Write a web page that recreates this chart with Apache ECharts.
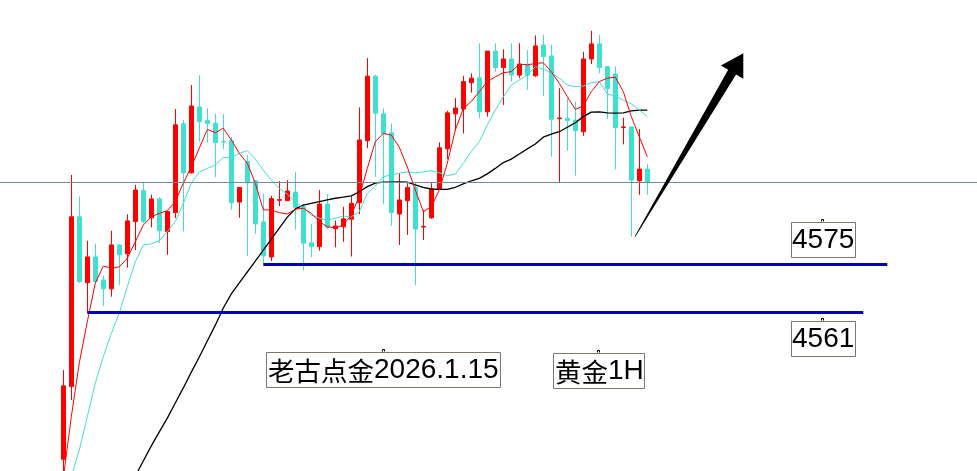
<!DOCTYPE html>
<html><head><meta charset="utf-8">
<script src="https://cdn.jsdelivr.net/npm/echarts@6/dist/echarts.min.js"></script>
<style>html,body{margin:0;padding:0;background:#fff;overflow:hidden}#c{width:977px;height:471px}</style>
</head><body><div id="c"></div>
<script>
// XAUUSD 1H candles (index 0..73)
const opens = [4518.1,4539.3,4588.8,4569.6,4577.1,4570.4,4567.8,4580.6,4578.0,4587.4,
4596.4,4588.5,4594.0,4584.5,4590.0,4615.9,4601.6,4620.8,4616.8,4616.1,
4610.8,4611.0,4593.1,4604.9,4599.3,4587.3,4577.1,4593.6,4593.5,4596.0,
4591.7,4581.2,4580.1,4592.5,4585.3,4585.9,4588.1,4592.9,4611.0,4629.8,
4618.8,4613.3,4589.6,4593.5,4597.3,4585.8,4588.5,4596.8,4608.6,4618.8,
4620.2,4627.9,4629.3,4619.4,4637.1,4632.3,4634.8,4630.1,4633.3,4629.9,
4638.9,4635.7,4617.4,4617.5,4617.0,4613.6,4634.8,4639.2,4632.6,4630.4,
4614.8,4615.0,4599.3,4602.7];
const closes = [4539.5,4588.8,4569.9,4577.1,4569.9,4567.8,4580.6,4577.7,4587.6,4596.6,
4587.4,4594.0,4584.7,4590.3,4615.6,4601.6,4621.1,4616.5,4616.0,4610.4,
4610.6,4592.9,4597.3,4598.7,4586.7,4577.4,4594.1,4593.8,4596.3,4591.6,
4581.1,4580.1,4592.5,4585.7,4586.1,4588.2,4592.7,4611.2,4629.8,4619.0,
4613.1,4590.0,4593.7,4597.3,4585.2,4586.0,4596.9,4608.9,4619.1,4620.5,
4628.2,4629.2,4619.4,4637.1,4632.3,4634.8,4630.1,4633.3,4630.1,4638.6,
4635.5,4617.2,4617.6,4616.9,4613.9,4634.8,4639.2,4632.3,4626.1,4614.8,
4615.0,4599.5,4602.7,4598.9];
const lows = [4510.6,4535.4,4569.5,4560.8,4569.6,4562.8,4565.5,4568.9,4574.0,4579.1,
4586.9,4585.7,4581.2,4577.7,4588.4,4584.5,4601.4,4610.7,4610.4,4600.3,
4608.5,4590.8,4588.5,4577.4,4583.8,4575.2,4575.9,4591.9,4593.5,4585.1,
4573.1,4577.0,4578.9,4585.1,4579.9,4581.5,4577.2,4589.6,4608.8,4600.5,
4592.5,4586.2,4580.6,4583.5,4568.9,4582.0,4588.2,4596.8,4605.6,4613.9,
4613.1,4625.0,4617.5,4618.0,4631.1,4621.4,4628.2,4629.2,4625.8,4629.6,
4624.0,4606.3,4598.9,4608.1,4600.8,4612.4,4633.3,4630.6,4617.3,4602.6,
4609.9,4583.0,4595.2,4595.2];
const highs = [4544.1,4601.0,4594.7,4581.8,4580.9,4571.5,4584.7,4580.9,4589.5,4598.1,
4598.9,4595.2,4594.5,4590.5,4620.2,4617.0,4627.2,4630.1,4620.4,4618.8,
4618.7,4612.1,4597.3,4606.8,4599.5,4595.4,4594.9,4599.2,4599.5,4601.8,
4592.5,4586.7,4596.6,4595.4,4587.7,4591.7,4594.7,4620.7,4635.1,4630.2,
4620.4,4616.0,4601.5,4598.6,4599.0,4590.8,4598.6,4610.5,4619.7,4623.4,
4629.9,4630.6,4639.4,4637.1,4639.4,4637.6,4639.4,4639.4,4637.4,4641.7,
4641.8,4638.9,4626.3,4623.3,4622.4,4636.9,4643.0,4641.8,4632.6,4632.6,
4617.7,4615.0,4614.4,4604.2];
// moving averages
const maFast = [4512.6,4530.5,4546.2,4558.2,4569.5,4574.4,4573.9,4574.2,4576.7,4581.5,
4586.4,4588.8,4589.8,4590.6,4593.2,4598.6,4603.4,4608.8,4614.3,4613.3,
4614.6,4611.2,4607.3,4604.4,4598.6,4590.8,4590.8,4590.0,4589.6,4591.0,
4591.3,4589.8,4587.4,4585.9,4585.6,4586.4,4589.3,4594.7,4602.9,4610.7,
4613.1,4612.6,4609.1,4603.3,4596.6,4590.3,4591.7,4596.6,4604.4,4614.1,
4620.4,4622.4,4625.3,4628.2,4629.6,4630.8,4631.1,4633.3,4633.1,4633.5,
4633.7,4631.1,4627.7,4623.8,4620.1,4621.1,4625.3,4628.2,4629.2,4629.5,
4625.3,4618.0,4612.1,4606.3];
const maMid = [null,4513.2,4520.8,4530.5,4540.3,4548.0,4554.8,4560.7,4568.4,4575.7,
4580.6,4580.9,4581.8,4584.5,4587.4,4592.7,4598.6,4601.9,4602.9,4603.9,
4606.1,4606.1,4607.3,4608.1,4605.6,4602.4,4599.5,4597.1,4595.4,4593.2,
4591.3,4589.3,4588.4,4587.7,4588.4,4589.0,4588.8,4590.3,4595.6,4597.8,
4600.5,4601.0,4601.5,4601.9,4601.6,4601.9,4602.2,4601.6,4600.8,4601.2,
4604.4,4607.8,4610.7,4615.6,4619.9,4623.8,4627.2,4628.7,4630.1,4632.6,
4631.8,4630.8,4629.2,4627.2,4626.7,4626.9,4627.9,4628.2,4624.6,4624.0,
4622.8,4621.7,4619.9,4618.0];
const maSlow = [null,null,null,null,null,null,null,null,null,4513.2,
4517.6,4522.0,4526.1,4530.1,4534.5,4538.9,4543.5,4547.9,4552.6,4557.2,
4562.2,4566.3,4569.5,4572.7,4575.9,4579.1,4582.3,4585.5,4588.7,4591.1,
4592.2,4592.7,4593.2,4593.7,4594.2,4594.5,4594.9,4596.1,4597.6,4598.6,
4598.9,4598.9,4599.0,4598.9,4598.1,4597.4,4596.9,4596.8,4596.8,4597.4,
4598.4,4599.3,4600.0,4601.3,4602.9,4604.6,4605.6,4607.1,4608.6,4610.0,
4612.0,4612.9,4613.6,4614.9,4616.2,4618.0,4619.3,4619.4,4619.1,4619.0,
4619.1,4619.7,4619.9,4619.9];
// support levels: [startBar, endBar, price]
const levelPrices = [4575, 4561];
const levelStartBars = [25, 3];
const levelEndBars = [103, 100];
const levelLabels = ['4575', '4561'];
const noteTitle = ['老古点金', '2026.1.15'];
const noteSymbol = ['黄金', '1H'];
// arrow annotation (bar index, price)
const arrowTail = [71.46, 4583.0];
const arrowTip = [85.0, 4636.5];

const chart = echarts.init(document.getElementById('c'));
const xMin = -7.9125, xMax = 114.2125;
const yMin = 4514.68, yMax = 4652;
const UP = '#ff0000', DOWN = '#40e0d0';
const candleData = opens.map((o, i) => [i, o, closes[i], lows[i], highs[i]]);
const toXY = arr => arr.map((v, i) => [i, v]);
const lastClose = closes[closes.length - 1];

const mlData = [
  { yAxis: lastClose, lineStyle: { color: '#778899', width: 1, type: 'solid' } }
];
levelPrices.forEach((p, k) => {
  mlData.push([
    { coord: [levelStartBars[k], p], lineStyle: { color: '#0000b8', width: 3, type: 'solid' } },
    { coord: [levelEndBars[k], p] }
  ]);
});

chart.setOption({
  animation: false,
  backgroundColor: '#ffffff',
  grid: { left: 0, right: 0, top: 0, bottom: 0 },
  xAxis: { type: 'value', min: xMin, max: xMax, show: false },
  yAxis: { type: 'value', min: yMin, max: yMax, show: false },
  series: [
    {
      type: 'candlestick', data: candleData, encode: { x: 0, y: [1, 2, 3, 4] },
      barWidth: 4, z: 2,
      itemStyle: { color: UP, color0: DOWN, borderColor: UP, borderColor0: DOWN, borderWidth: 1 },
      markLine: { silent: true, symbol: ['none', 'none'], label: { show: false }, data: mlData, z: 5 }
    },
    { type: 'line', data: toXY(maSlow), symbol: 'none', z: 3, lineStyle: { color: '#000000', width: 1.3 } },
    { type: 'line', data: toXY(maMid), symbol: 'none', z: 3, lineStyle: { color: DOWN, width: 1 } },
    { type: 'line', data: toXY(maFast), symbol: 'none', z: 4, lineStyle: { color: UP, width: 1 } }
  ]
});

// annotations
const t = chart.convertToPixel({ gridIndex: 0 }, arrowTail);
const p = chart.convertToPixel({ gridIndex: 0 }, arrowTip);
const dx = p[0] - t[0], dy = p[1] - t[1], L = Math.hypot(dx, dy);
const d = [dx / L, dy / L], n = [-d[1], d[0]];
const headLen = 22, headHalf = 13, neckHalf = 4.6;
const base = [p[0] - d[0] * headLen, p[1] - d[1] * headLen];
const pt = (c, s) => [c[0] + n[0] * s, c[1] + n[1] * s];
const arrowPts = [pt(t, 0.4), pt(base, neckHalf), pt(base, headHalf), p, pt(base, -headHalf), pt(base, -neckHalf), pt(t, -0.4)];

const boxStroke = '#80766c';
function box(x, y, w, h) {
  return { type: 'rect', shape: { x: x, y: y, width: w, height: h }, style: { fill: null, stroke: boxStroke, lineWidth: 1 }, z: 10 };
}
function anchor(cx, top) {
  return { type: 'polyline', shape: { points: [[cx - 1, top], [cx - 1, top - 2], [cx + 1, top - 2], [cx + 1, top]] }, style: { stroke: '#000', lineWidth: 1, fill: null }, z: 10 };
}
const latin = '"Liberation Sans", Arial, sans-serif';
const cjk = '"Noto Sans CJK SC", sans-serif';
function plainText(str, x, y) {
  return { type: 'text', style: { text: str, x: x, y: y, font: '28px ' + latin, fill: '#000', verticalAlign: 'middle', align: 'left' }, z: 11 };
}
function richText(a, b, x, y) {
  return {
    type: 'text', z: 11,
    style: {
      text: '{c|' + a + '}{n|' + b + '}', x: x, y: y, verticalAlign: 'middle', align: 'left', fill: '#000',
      rich: { c: { fontFamily: cjk, fontSize: 26.5, fill: '#000' }, n: { fontFamily: latin, fontSize: 28, fill: '#000' } }
    }
  };
}

chart.setOption({
  graphic: [
    { type: 'polygon', shape: { points: arrowPts }, style: { fill: '#000' }, z: 9 },
    box(791.5, 222.5, 64, 35), anchor(822.5, 221.5), plainText(levelLabels[0], 792, 240.5),
    box(791.5, 321.5, 64, 35), anchor(822.5, 320.5), plainText(levelLabels[1], 792, 339.5),
    box(266.5, 352.5, 234, 35), anchor(383.5, 351.5), richText(noteTitle[0], noteTitle[1], 268, 370.5),
    box(553.5, 353.5, 91, 35), anchor(598.5, 352.5), richText(noteSymbol[0], noteSymbol[1], 555, 371.5)
  ]
});
</script>
</body></html>
